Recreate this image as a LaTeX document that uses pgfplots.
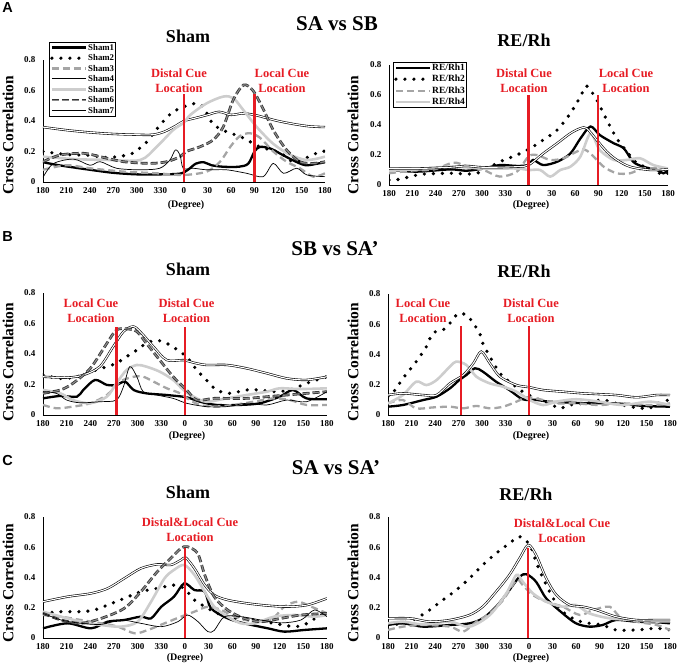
\documentclass[border=0pt]{standalone}
\usepackage{pgfplots}
\pgfplotsset{compat=1.18}
\usepackage{fontspec}
\setmainfont{Liberation Serif}
\newfontfamily\arialf{Liberation Sans}
\definecolor{cuered}{RGB}{230,28,36}
\definecolor{lgray}{RGB}{205,205,205}
\definecolor{mgray}{RGB}{165,165,165}
\tikzset{
 s1/.style={black, line width=2.3pt},
 s2/.style={black, line width=3.6pt, line cap=round, dash pattern=on 0pt off 9pt},
 s3/.style={mgray, line width=2.3pt, dash pattern=on 7pt off 4pt},
 s4/.style={draw=black, double=white, double distance=1.1pt, line width=0.6pt},
 s5/.style={lgray, line width=2.6pt},
 s6/.style={draw=black!80, double=black!45, double distance=1.1pt, line width=0.8pt, dash pattern=on 7pt off 3pt},
 s7/.style={black, line width=0.7pt},
 redl/.style={cuered, line width=2.4pt},
 redt/.style={text=cuered, font=\fontsize{12.5}{15}\selectfont\bfseries, align=center},
}
\pgfplotsset{panel/.style={
 scale only axis, axis lines=left, axis line style={-, line width=0.6pt},
 xmin=-180, xmax=180, ymin=0, ymax=0.8,
 xtick={-180,-150,...,180}, xticklabels={180,210,240,270,300,330,0,30,60,90,120,150,180},
 ytick={0,0.2,0.4,0.6,0.8}, yticklabels={0,0.2,0.4,0.6,0.8},
 tick style={draw=none}, major tick length=0pt,
 ticklabel style={font=\fontsize{9}{10}\selectfont\bfseries},
 xticklabel style={yshift=-1.5pt}, yticklabel style={xshift=-4pt},
 every axis plot/.append style={smooth},
 legend cell align=left,
 legend image code/.code={\draw[##1] (0pt,0pt) -- (34pt,0pt);},
 legend style={draw=black, inner sep=1pt, row sep=1.5pt, nodes={inner sep=0.5pt, text height=6.5pt, text depth=1.5pt}},
}}
\begin{document}
\begin{tikzpicture}[x=1pt,y=1pt]
\useasboundingbox (0,0) rectangle (688,666);
% ---------------- A Sham
\begin{axis}[panel, at={(43pt,484pt)}, anchor=south west, width=282pt, height=122pt,
 legend style={at={(0.021,1.148)}, anchor=north west, font=\fontsize{8.8}{9}\selectfont\bfseries}]
\addplot[s1] coordinates {(-180,0.13) (-160,0.11) (-120,0.08) (-90,0.06) (-60,0.05) (-30,0.05) (-5,0.055) (5,0.08) (15,0.12) (25,0.13) (35,0.11) (50,0.1) (70,0.1) (82,0.12) (90,0.2) (97,0.23) (110,0.22) (125,0.18) (140,0.14) (155,0.11) (170,0.12) (180,0.13)};
\addplot[s2] coordinates {(-180,0.2) (-150,0.18) (-120,0.175) (-99,0.16) (-80,0.17) (-65,0.19) (-48,0.26) (-39,0.32) (-26,0.4) (-14,0.46) (3,0.5) (16,0.515) (25,0.49) (37,0.38) (54,0.33) (71,0.3) (84,0.265) (97,0.23) (123,0.19) (140,0.13) (157,0.16) (174,0.2) (180,0.2)};
\addplot[s3] coordinates {(-180,0.08) (-150,0.11) (-120,0.09) (-77,0.068) (-35,0.057) (-1,0.046) (29,0.068) (46,0.133) (59,0.23) (71,0.3) (84,0.32) (97,0.29) (114,0.2) (131,0.133) (148,0.09) (165,0.035) (180,0.057)};
\addplot[s4] coordinates {(-180,0.36) (-150,0.34) (-120,0.325) (-90,0.315) (-60,0.31) (-40,0.31) (-25,0.33) (-10,0.37) (0,0.4) (15,0.42) (30,0.44) (45,0.46) (60,0.44) (75,0.45) (90,0.44) (105,0.42) (120,0.4) (140,0.38) (160,0.365) (180,0.36)};
\addplot[s5] coordinates {(-180,0.166) (-140,0.15) (-100,0.145) (-56,0.144) (-35,0.23) (-14,0.34) (0,0.39) (8,0.44) (29,0.516) (50,0.56) (63,0.55) (76,0.47) (93,0.36) (114,0.25) (135,0.18) (157,0.144) (180,0.166)};
\addplot[s6] coordinates {(-180,0.133) (-158,0.177) (-128,0.188) (-107,0.166) (-77,0.133) (-43,0.122) (-22,0.133) (-5,0.166) (3,0.2) (20,0.23) (37,0.275) (50,0.36) (63,0.54) (76,0.636) (88,0.6) (101,0.48) (114,0.34) (131,0.21) (148,0.133) (165,0.122) (180,0.133)};
\addplot[s7] coordinates {(-180,0.03) (-167,0.12) (-141,0.15) (-120,0.11) (-107,0.133) (-86,0.09) (-56,0.08) (-31,0.09) (-18,0.144) (-11,0.21) (-5,0.177) (-1,0.09) (12,0.09) (29,0.08) (54,0.08) (80,0.057) (101,0.035) (114,0.122) (127,0.057) (144,0.09) (157,0.046) (180,0.035)};
\addplot[redl, forget plot] coordinates {(0,0) (0,0.58)};
\addplot[redl, forget plot] coordinates {(90,0) (90,0.58)};
\legend{Sham1,Sham2,Sham3,Sham4,Sham5,Sham6,Sham7}
\end{axis}
% ---------------- A RE/Rh
\begin{axis}[panel, at={(389pt,481pt)}, anchor=south west, width=279pt, height=120pt,
 legend style={at={(0.014,1.025)}, anchor=north west, font=\fontsize{9.5}{10}\selectfont\bfseries, row sep=2.5pt}]
\addplot[s1] coordinates {(-180,0.1) (-144,0.089) (-101,0.104) (-80,0.095) (-58,0.11) (-37,0.133) (-15,0.127) (0,0.133) (6,0.167) (19,0.133) (37,0.155) (54,0.21) (67,0.31) (80,0.39) (92,0.333) (110,0.278) (123,0.244) (135,0.155) (148,0.122) (166,0.1) (174,0.078) (180,0.1)};
\addplot[s2] coordinates {(-180,0.033) (-170,0.035) (-153,0.055) (-135,0.073) (-101,0.078) (-67,0.078) (-37,0.155) (-15,0.2) (2,0.244) (19,0.3) (37,0.367) (54,0.478) (67,0.589) (75,0.66) (88,0.567) (101,0.433) (114,0.31) (127,0.222) (140,0.144) (157,0.11) (174,0.067) (180,0.08)};
\addplot[s3] coordinates {(-180,0.078) (-150,0.096) (-122,0.104) (-97,0.149) (-80,0.127) (-58,0.1) (-37,0.056) (-15,0.089) (0,0.19) (11,0.2) (28,0.167) (45,0.178) (62,0.222) (71,0.238) (80,0.21) (97,0.122) (114,0.078) (131,0.078) (148,0.11) (180,0.11)};
\addplot[s5] coordinates {(-180,0.095) (-144,0.104) (-101,0.122) (-58,0.11) (-15,0.11) (0,0.1) (15,0.1) (28,0.056) (41,0.1) (54,0.122) (67,0.19) (80,0.344) (92,0.233) (110,0.167) (127,0.167) (144,0.178) (161,0.133) (180,0.11)};
\addplot[s4] coordinates {(-180,0.11) (-144,0.11) (-101,0.118) (-80,0.127) (-58,0.118) (-15,0.122) (0,0.133) (19,0.21) (37,0.278) (54,0.344) (67,0.378) (75,0.378) (88,0.3) (101,0.222) (114,0.167) (131,0.122) (157,0.1) (180,0.104)};
\addplot[redl, forget plot] coordinates {(0,0) (0,0.6)};
\addplot[redl, forget plot] coordinates {(90,0) (90,0.6)};
\legend{RE/Rh1,RE/Rh2,RE/Rh3,RE/Rh4}
\end{axis}
% ---------------- B Sham
\begin{axis}[panel, at={(43pt,251pt)}, anchor=south west, width=284pt, height=122pt]
\addplot[s1] coordinates {(-180,0.109) (-158,0.125) (-137,0.12) (-129,0.164) (-114,0.23) (-99,0.197) (-87,0.197) (-76,0.219) (-65,0.164) (-49,0.142) (-23,0.131) (2,0.116) (19,0.087) (40,0.066) (70,0.066) (95,0.077) (120,0.12) (137,0.164) (154,0.109) (180,0.103)};
\addplot[s2] coordinates {(-180,0.262) (-158,0.24) (-137,0.25) (-120,0.284) (-99,0.317) (-87,0.339) (-74,0.383) (-61,0.426) (-49,0.47) (-36,0.49) (-23,0.47) (-6,0.415) (2,0.383) (15,0.295) (27,0.23) (40,0.164) (57,0.142) (78,0.164) (95,0.164) (112,0.153) (133,0.164) (154,0.208) (167,0.23) (180,0.251)};
\addplot[s3] coordinates {(-180,0.066) (-163,0.044) (-142,0.055) (-120,0.077) (-99,0.131) (-82,0.219) (-65,0.251) (-53,0.251) (-40,0.219) (-23,0.175) (-6,0.142) (6,0.098) (19,0.066) (36,0.055) (61,0.066) (87,0.087) (112,0.109) (133,0.098) (154,0.066) (180,0.066)};
\addplot[s4] coordinates {(-180,0.251) (-150,0.245) (-129,0.262) (-108,0.317) (-91,0.448) (-78,0.547) (-65,0.58) (-53,0.525) (-40,0.448) (-23,0.36) (-2,0.36) (11,0.343) (27,0.328) (53,0.328) (78,0.306) (104,0.273) (129,0.24) (154,0.23) (180,0.251)};
\addplot[s5] coordinates {(-180,0.164) (-158,0.142) (-142,0.098) (-120,0.077) (-99,0.12) (-87,0.208) (-74,0.295) (-61,0.328) (-49,0.317) (-32,0.284) (-15,0.23) (-2,0.164) (11,0.12) (27,0.087) (53,0.109) (78,0.131) (104,0.153) (120,0.175) (146,0.17) (180,0.175)};
\addplot[s6] coordinates {(-180,0.142) (-158,0.164) (-142,0.208) (-120,0.306) (-99,0.47) (-87,0.557) (-74,0.565) (-61,0.547) (-49,0.47) (-32,0.36) (-15,0.251) (2,0.164) (15,0.098) (36,0.109) (53,0.109) (78,0.109) (104,0.12) (129,0.131) (154,0.142) (180,0.153)};
\addplot[s7] coordinates {(-180,0.153) (-163,0.142) (-150,0.098) (-133,0.08) (-108,0.087) (-87,0.098) (-78,0.186) (-70,0.317) (-61,0.251) (-53,0.153) (-36,0.131) (-15,0.109) (2,0.077) (27,0.055) (53,0.055) (78,0.077) (104,0.066) (129,0.098) (154,0.087) (180,0.153)};
\addplot[redl, forget plot] coordinates {(-87,0) (-87,0.58)};
\addplot[redl, forget plot] coordinates {(0,0) (0,0.58)};
\end{axis}
% ---------------- B RE/Rh
\begin{axis}[panel, at={(388pt,251pt)}, anchor=south west, width=282pt, height=121pt]
\addplot[s1] coordinates {(-180,0.055) (-161,0.066) (-135,0.099) (-118,0.121) (-101,0.176) (-89,0.231) (-80,0.264) (-69,0.309) (-59,0.287) (-42,0.22) (-25,0.165) (-8,0.104) (9,0.1) (26,0.088) (52,0.082) (77,0.077) (111,0.077) (146,0.06) (180,0.055)};
\addplot[s2] coordinates {(-180,0.121) (-171,0.165) (-161,0.242) (-144,0.353) (-131,0.452) (-123,0.54) (-110,0.562) (-101,0.606) (-91,0.668) (-80,0.661) (-71,0.606) (-63,0.54) (-59,0.474) (-50,0.386) (-37,0.276) (-25,0.22) (-8,0.154) (9,0.11) (26,0.077) (39,0.044) (52,0.066) (69,0.077) (94,0.099) (111,0.077) (129,0.055) (146,0.044) (154,0.044) (169,0.088) (180,0.099)};
\addplot[s3] coordinates {(-180,0.077) (-161,0.099) (-144,0.044) (-123,0.05) (-101,0.055) (-84,0.044) (-67,0.06) (-50,0.044) (-33,0.055) (-16,0.088) (-3,0.117) (14,0.104) (35,0.077) (60,0.077) (90,0.066) (120,0.077) (154,0.066) (180,0.077)};
\addplot[s5] coordinates {(-180,0.077) (-161,0.132) (-144,0.22) (-131,0.198) (-118,0.231) (-101,0.32) (-93,0.353) (-80,0.331) (-67,0.253) (-50,0.209) (-33,0.187) (-16,0.154) (1,0.099) (18,0.066) (35,0.088) (60,0.104) (90,0.088) (120,0.066) (154,0.088) (180,0.066)};
\addplot[s4] coordinates {(-180,0.132) (-161,0.143) (-135,0.132) (-118,0.132) (-101,0.209) (-84,0.264) (-71,0.342) (-61,0.419) (-50,0.342) (-37,0.253) (-16,0.198) (1,0.183) (18,0.165) (43,0.154) (69,0.143) (111,0.132) (137,0.117) (163,0.132) (180,0.132)};
\addplot[redl, forget plot] coordinates {(-87,0) (-87,0.59)};
\addplot[redl, forget plot] coordinates {(0,0) (0,0.59)};
\end{axis}
% ---------------- C Sham
\begin{axis}[panel, at={(43pt,28pt)}, anchor=south west, width=284pt, height=121pt]
\addplot[s1] coordinates {(-180,0.064) (-149,0.097) (-119,0.064) (-98,0.108) (-77,0.119) (-56,0.141) (-43,0.13) (-30,0.207) (-14,0.273) (-1,0.361) (12,0.317) (25,0.306) (33,0.196) (54,0.13) (75,0.097) (105,0.064) (126,0.042) (151,0.053) (180,0.064)};
\addplot[s2] coordinates {(-180,0.163) (-157,0.174) (-132,0.174) (-115,0.185) (-98,0.218) (-77,0.262) (-56,0.306) (-35,0.328) (-14,0.35) (-1,0.328) (12,0.251) (29,0.196) (41,0.163) (63,0.13) (88,0.119) (113,0.097) (139,0.075) (155,0.097) (168,0.141) (180,0.174)};
\addplot[s3] coordinates {(-180,0.152) (-157,0.141) (-132,0.119) (-106,0.097) (-85,0.075) (-64,0.031) (-47,0.053) (-26,0.097) (-5,0.141) (12,0.174) (29,0.207) (46,0.185) (63,0.141) (88,0.108) (109,0.119) (126,0.207) (143,0.24) (160,0.207) (180,0.163)};
\addplot[s4] coordinates {(-180,0.24) (-149,0.273) (-119,0.295) (-98,0.328) (-77,0.394) (-56,0.46) (-35,0.487) (-18,0.483) (-5,0.516) (1,0.531) (12,0.46) (25,0.35) (37,0.284) (54,0.251) (79,0.229) (105,0.214) (130,0.207) (155,0.218) (180,0.262)};
\addplot[s5] coordinates {(-180,0.174) (-157,0.141) (-132,0.108) (-106,0.086) (-81,0.075) (-60,0.108) (-43,0.24) (-26,0.394) (-14,0.45) (-1,0.483) (12,0.417) (25,0.306) (37,0.207) (54,0.141) (71,0.097) (88,0.097) (113,0.141) (139,0.152) (164,0.141) (180,0.152)};
\addplot[s6] coordinates {(-180,0.163) (-157,0.119) (-132,0.097) (-106,0.13) (-77,0.196) (-56,0.306) (-35,0.439) (-18,0.527) (-5,0.593) (3,0.604) (16,0.56) (25,0.417) (37,0.273) (54,0.185) (75,0.13) (96,0.108) (122,0.13) (147,0.152) (180,0.163)};
\addplot[s7] coordinates {(-180,0.163) (-157,0.119) (-132,0.097) (-106,0.09) (-81,0.119) (-56,0.097) (-30,0.075) (-9,0.108) (3,0.152) (16,0.11) (29,0.042) (37,0.05) (50,0.141) (71,0.141) (96,0.119) (122,0.1) (147,0.119) (164,0.185) (180,0.141)};
\addplot[redl, forget plot] coordinates {(0,0) (0,0.595)};
\end{axis}
% ---------------- C RE/Rh
\begin{axis}[panel, at={(388pt,28pt)}, anchor=south west, width=282pt, height=121pt]
\addplot[s1] coordinates {(-180,0.086) (-161,0.097) (-135,0.075) (-101,0.086) (-76,0.097) (-59,0.13) (-42,0.207) (-25,0.317) (-12,0.406) (-3,0.421) (9,0.372) (22,0.262) (43,0.163) (60,0.097) (77,0.075) (94,0.086) (111,0.119) (137,0.108) (163,0.104) (180,0.097)};
\addplot[s2] coordinates {(-180,0.086) (-161,0.097) (-144,0.13) (-127,0.185) (-110,0.251) (-93,0.317) (-76,0.394) (-59,0.483) (-42,0.56) (-25,0.626) (-12,0.67) (1,0.615) (9,0.505) (18,0.394) (31,0.262) (43,0.174) (60,0.119) (77,0.097) (94,0.086) (111,0.053) (137,0.053) (163,0.064) (180,0.053)};
\addplot[s3] coordinates {(-180,0.053) (-161,0.075) (-135,0.086) (-101,0.075) (-84,0.042) (-67,0.108) (-50,0.163) (-33,0.251) (-16,0.383) (-8,0.35) (5,0.284) (22,0.24) (43,0.207) (65,0.152) (82,0.185) (103,0.207) (116,0.141) (137,0.108) (163,0.086) (180,0.053)};
\addplot[s5] coordinates {(-180,0.097) (-161,0.108) (-135,0.09) (-101,0.108) (-76,0.075) (-50,0.152) (-29,0.295) (-16,0.417) (-8,0.372) (5,0.295) (22,0.24) (43,0.207) (60,0.218) (77,0.163) (103,0.13) (129,0.12) (154,0.11) (180,0.11)};
\addplot[s4] coordinates {(-180,0.13) (-152,0.13) (-127,0.108) (-101,0.119) (-76,0.152) (-59,0.207) (-42,0.306) (-25,0.417) (-12,0.527) (-1,0.615) (9,0.549) (22,0.394) (35,0.284) (52,0.218) (69,0.207) (86,0.185) (111,0.141) (137,0.119) (163,0.119) (180,0.119)};
\addplot[redl, forget plot] coordinates {(-1,0) (-1,0.595)};
\end{axis}
% ---------------- texts
\begin{scope}[every node/.style={inner sep=0pt}]
\node[font=\arialf\fontsize{14.5}{16}\selectfont\bfseries] at (7.5,658) {A};
\node[font=\arialf\fontsize{14.5}{16}\selectfont\bfseries] at (7.5,429) {B};
\node[font=\arialf\fontsize{14.5}{16}\selectfont\bfseries] at (7.5,205) {C};
\node[font=\fontsize{21}{24}\selectfont\bfseries] at (337,642) {SA vs SB};
\node[font=\fontsize{21}{24}\selectfont\bfseries] at (335,417) {SB vs SA'};
\node[font=\fontsize{21}{24}\selectfont\bfseries] at (336,198) {SA vs SA'};
\node[font=\fontsize{18}{20}\selectfont\bfseries] at (188,630) {Sham};
\node[font=\fontsize{18}{20}\selectfont\bfseries] at (524,626) {RE/Rh};
\node[font=\fontsize{18}{20}\selectfont\bfseries] at (188,397) {Sham};
\node[font=\fontsize{18}{20}\selectfont\bfseries] at (524,395) {RE/Rh};
\node[font=\fontsize{18}{20}\selectfont\bfseries] at (188,174) {Sham};
\node[font=\fontsize{18}{20}\selectfont\bfseries] at (526,172) {RE/Rh};
\foreach \x/\y in {8/531,353/531,8/304,353/304,8/83,353/83}
  \node[rotate=90, font=\fontsize{15.5}{18}\selectfont\bfseries] at (\x,\y) {Cross Correlation};
\foreach \x/\y in {186/461,531/461,187/230,531/230,185/7.5,531/7.5}
  \node[font=\fontsize{10}{12}\selectfont\bfseries] at (\x,\y) {(Degree)};
\node[redt] at (179,585.5) {Distal Cue\\Location};
\node[redt] at (282,585.5) {Local Cue\\Location};
\node[redt] at (524,585) {Distal Cue\\Location};
\node[redt] at (626,585) {Local Cue\\Location};
\node[redt] at (91,355.5) {Local Cue\\Location};
\node[redt] at (186.5,355.5) {Distal Cue\\Location};
\node[redt] at (423,355.5) {Local Cue\\Location};
\node[redt] at (531,355.5) {Distal Cue\\Location};
\node[redt] at (190,136.5) {Distal\&Local Cue\\Location};
\node[redt] at (562,135.5) {Distal\&Local Cue\\Location};
\end{scope}
\end{tikzpicture}
\end{document}
